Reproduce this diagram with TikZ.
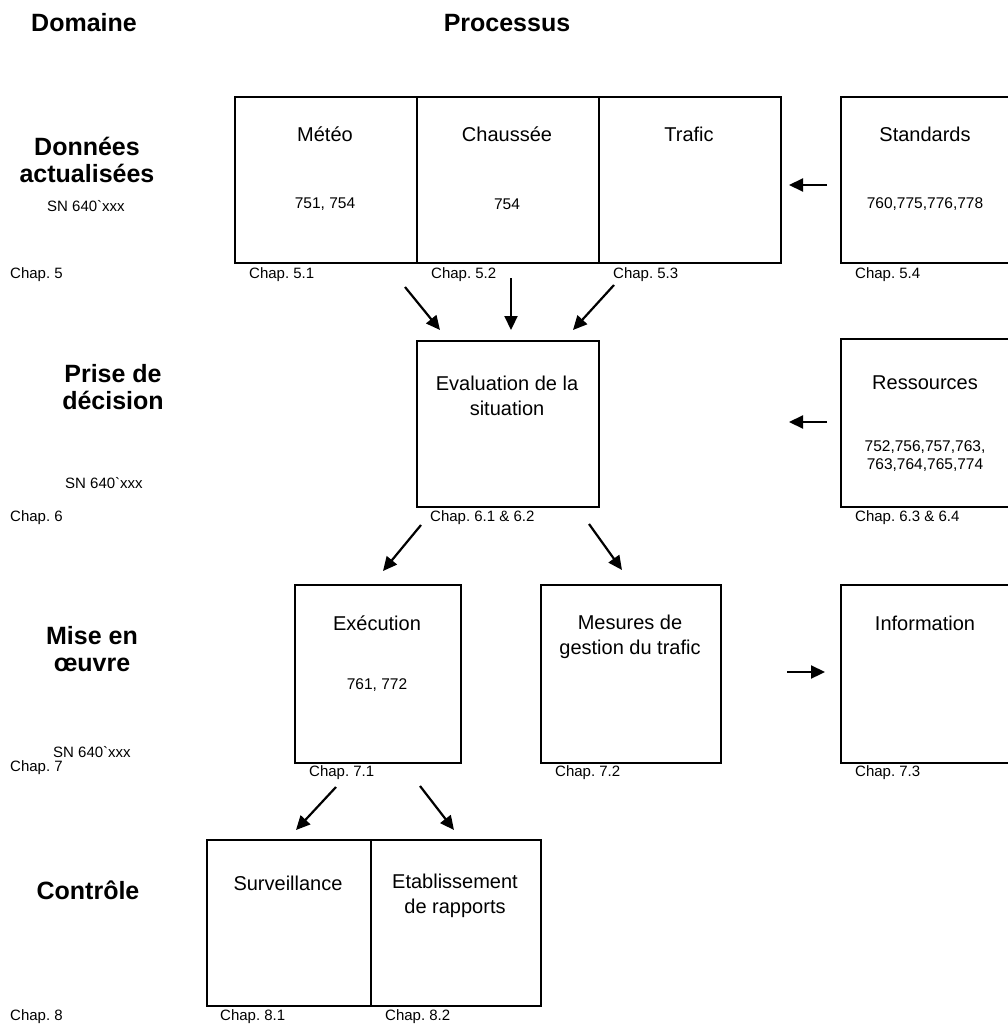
\documentclass[tikz,border=0pt]{standalone}
\usepackage{fontspec}
\setmainfont{Liberation Sans}
\newfontfamily\plainf{Liberation Sans}
\usetikzlibrary{arrows.meta}
\begin{document}
\frenchspacing
\begin{tikzpicture}[x=1pt,y=-1pt,
  box/.style={draw,line width=2pt,rectangle,anchor=north west,inner sep=0pt},
  ttl/.style={font=\fontsize{20}{25}\selectfont,align=center,inner sep=0pt},
  num/.style={font=\fontsize{15.5}{18}\selectfont,align=center,inner sep=0pt},
  chap/.style={font=\fontsize{15}{18}\selectfont,anchor=west,inner sep=0pt},
  hdr/.style={font=\bfseries\fontsize{25}{27}\selectfont,align=center,inner sep=0pt},
  sn/.style={font=\plainf\fontsize{15}{18}\selectfont,inner sep=0pt},
  arr/.style={line width=2.2pt,-{Triangle[length=14pt,width=13pt]}}]
\useasboundingbox (0,0) rectangle (1008,1027);
\clip (0,0) rectangle (1008,1027);

% headers
\node[hdr] (hdom) at (84,23) {Domaine};
\node[hdr] (hproc) at (507,23) {Processus};

% left domain labels
\node[hdr] (d1) at (87,160) {Données\\actualisées};
\node[sn] (sn1) at (86,206) {SN 640`xxx};
\node[chap] (c5) at (10,275) {Chap. 5};

\node[hdr] (d2) at (113,387) {Prise de\\décision};
\node[sn] (sn2) at (104,483) {SN 640`xxx};
\node[chap] (c6) at (10,518) {Chap. 6};

\node[hdr] (d3) at (92,649) {Mise en\\œuvre};
\node[sn] (sn3) at (92,752) {SN 640`xxx};
\node[chap] (c7) at (10,768) {Chap. 7};

\node[hdr] (d4) at (88,890) {Contrôle};
\node[chap] (c8) at (10,1017) {Chap. 8};

% row 1
\node[box,minimum width=182pt,minimum height=166pt] (meteo) at (234,96) {};
\node[box,minimum width=182pt,minimum height=166pt] (chaus) at (416,96) {};
\node[box,minimum width=182pt,minimum height=166pt] (trafic) at (598,96) {};
\node[box,minimum width=180pt,minimum height=166pt] (stand) at (840,96) {};
\node[ttl] (tmeteo) at (325,134) {Météo};
\node[num] (nmeteo) at (325,204) {751, 754};
\node[ttl] (tchaus) at (507,134) {Chaussée};
\node[num] (nchaus) at (507,204) {754};
\node[ttl] (ttrafic) at (689,134) {Trafic};
\node[ttl] (tstand) at (925,134) {Standards};
\node[num] (nstand) at (925,204) {760,775,776,778};
\node[chap] (c51) at (249,275) {Chap. 5.1};
\node[chap] (c52) at (431,275) {Chap. 5.2};
\node[chap] (c53) at (613,275) {Chap. 5.3};
\node[chap] (c54) at (855,275) {Chap. 5.4};

% row 2
\node[box,minimum width=182pt,minimum height=166pt] (eval) at (416,340) {};
\node[box,minimum width=180pt,minimum height=168pt] (ress) at (840,338) {};
\node[ttl] (teval) at (507,396) {Evaluation de la\\situation};
\node[ttl] (tress) at (925,383) {Ressources};
\node[num] (nress) at (925,456) {752,756,757,763,\\763,764,765,774};
\node[chap] (c612) at (430,518) {Chap. 6.1 \& 6.2};
\node[chap] (c634) at (855,518) {Chap. 6.3 \& 6.4};

% row 3
\node[box,minimum width=166pt,minimum height=178pt] (exec) at (294,584) {};
\node[box,minimum width=180pt,minimum height=178pt] (mes) at (540,584) {};
\node[box,minimum width=180pt,minimum height=178pt] (info) at (840,584) {};
\node[ttl] (texec) at (377,623) {Exécution};
\node[num] (nexec) at (377,685) {761, 772};
\node[ttl] (tmes) at (630,637) {Mesures de\\gestion du trafic};
\node[ttl] (tinfo) at (925,623) {Information};
\node[chap] (c71) at (309,773) {Chap. 7.1};
\node[chap] (c72) at (555,773) {Chap. 7.2};
\node[chap] (c73) at (855,773) {Chap. 7.3};

% row 4
\node[box,minimum width=164pt,minimum height=166pt] (surv) at (206,839) {};
\node[box,minimum width=170pt,minimum height=166pt] (etab) at (370,839) {};
\node[ttl] (tsurv) at (288,883) {Surveillance};
\node[ttl] (tetab) at (455,896) {Etablissement\\de rapports};
\node[chap] (c81) at (220,1017) {Chap. 8.1};
\node[chap] (c82) at (385,1017) {Chap. 8.2};

% arrow end points
\coordinate (a1s) at (405,287); \coordinate (a1e) at (440,330);
\coordinate (a2s) at (511,278); \coordinate (a2e) at (511,330);
\coordinate (a3s) at (614,285); \coordinate (a3e) at (573,330);
\coordinate (a4s) at (827,185); \coordinate (a4e) at (789,185);
\coordinate (a5s) at (827,422); \coordinate (a5e) at (789,422);
\coordinate (a6s) at (421,525); \coordinate (a6e) at (383,571);
\coordinate (a7s) at (589,524); \coordinate (a7e) at (622,570);
\coordinate (a8s) at (787,672); \coordinate (a8e) at (825,672);
\coordinate (a9s) at (336,787); \coordinate (a9e) at (296,830);
\coordinate (a10s) at (420,786); \coordinate (a10e) at (454,830);

\foreach \i in {1,...,10} \draw[arr] (a\i s) -- (a\i e);
\end{tikzpicture}
\end{document}
